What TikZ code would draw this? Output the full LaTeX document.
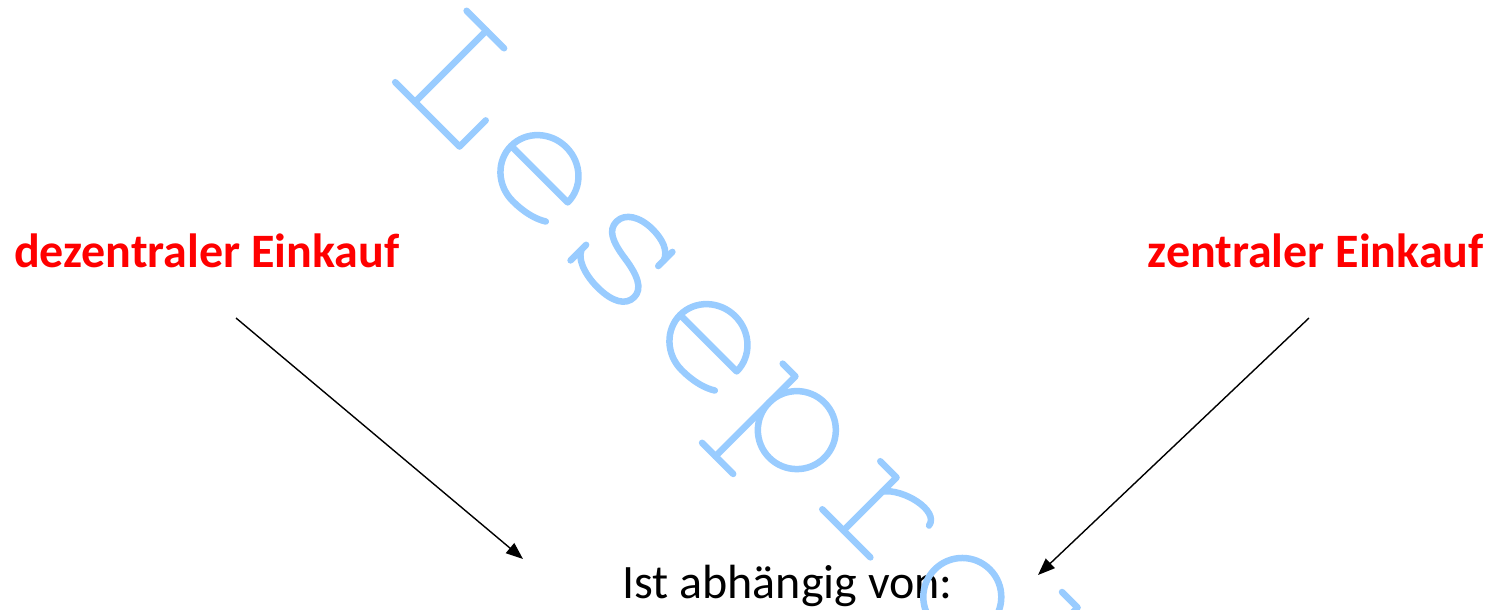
\documentclass[tikz,border=0pt]{standalone}
\usepackage{fontspec}
\setmainfont{Carlito}
\usetikzlibrary{arrows.meta}
\definecolor{wm}{RGB}{153,204,255}
\definecolor{redtxt}{RGB}{255,0,0}
\begin{document}
\begin{tikzpicture}[x=1pt,y=1pt,
  lbl/.style={inner sep=0pt, font=\fontsize{48}{58}\selectfont},
  redlbl/.style={inner sep=0pt, text=redtxt, font=\fontsize{48}{58}\selectfont\bfseries},
  conn/.style={line width=1.4pt, -{Triangle[length=17pt,width=13pt]}},
  wmark/.style={draw=wm, line width=6.5pt, line cap=round, line join=round}]
\useasboundingbox (0,-610) rectangle (1494,0);
\fill[white] (0,-610) rectangle (1494,0);
% labels
\node[redlbl, anchor=base west] (dez) at (14,-267) {dezentraler Einkauf};
\node[redlbl, anchor=base east] (zen) at (1484,-267) {zentraler Einkauf};
\node[lbl, anchor=base] (ist) at (787.5,-598) {Ist abhängig von:};
% connectors
\coordinate (dezout) at (236,-318);
\coordinate (dezin) at (523,-559);
\coordinate (zenout) at (1309,-318);
\coordinate (zenin) at (1038,-575);
\draw[conn] (dezout) -- (dezin);
\draw[conn] (zenout) -- (zenin);
% watermark
\begin{scope}
\clip (0,-610) rectangle (1494,0);
\begin{scope}[shift={(415,-102)}, rotate=-45]
% L
\draw[wmark] (-28,101) -- (25,101);
\draw[wmark] (0,101) -- (0,0);
\draw[wmark] (-28,0) -- (63,0) -- (63,37);
% e
\draw[wmark] (99,37) -- (179,37) arc[start angle=0,end angle=270,x radius=40pt,y radius=38pt] .. controls (157,-1) and (169,3) .. (177,8);
% s
\draw[wmark] (288,76) -- (288,56);
\draw[wmark] (288,64) .. controls (284,74) and (272,78) .. (258,78) .. controls (240,78) and (227,70) .. (227,58) .. controls (227,46) and (238,41) .. (258,38) .. controls (280,35) and (293,29) .. (293,17) .. controls (293,5) and (281,-2) .. (260,-2) .. controls (240,-2) and (226,5) .. (223,12);
\draw[wmark] (222,20) -- (222,-2);
% e
\draw[wmark] (338,37) -- (418,37) arc[start angle=0,end angle=270,x radius=40pt,y radius=38pt] .. controls (396,-1) and (408,3) .. (416,8);
% p
\draw[wmark] (445,75) -- (463,75) -- (463,-38);
\draw[wmark] (444,-38) -- (488,-38);
\draw[wmark] (502,38) circle[radius=39pt];
% r
\draw[wmark] (583,75) -- (606,75) -- (606,0);
\draw[wmark] (576,0) -- (644,0);
\draw[wmark] (606,55) .. controls (618,72) and (660,82) .. (663,64);
% o
\draw[wmark] (737,37) circle[radius=39pt];
% b
\draw[wmark] (804,111) -- (826,111) -- (826,0);
\end{scope}
\end{scope}
\end{tikzpicture}
\end{document}
